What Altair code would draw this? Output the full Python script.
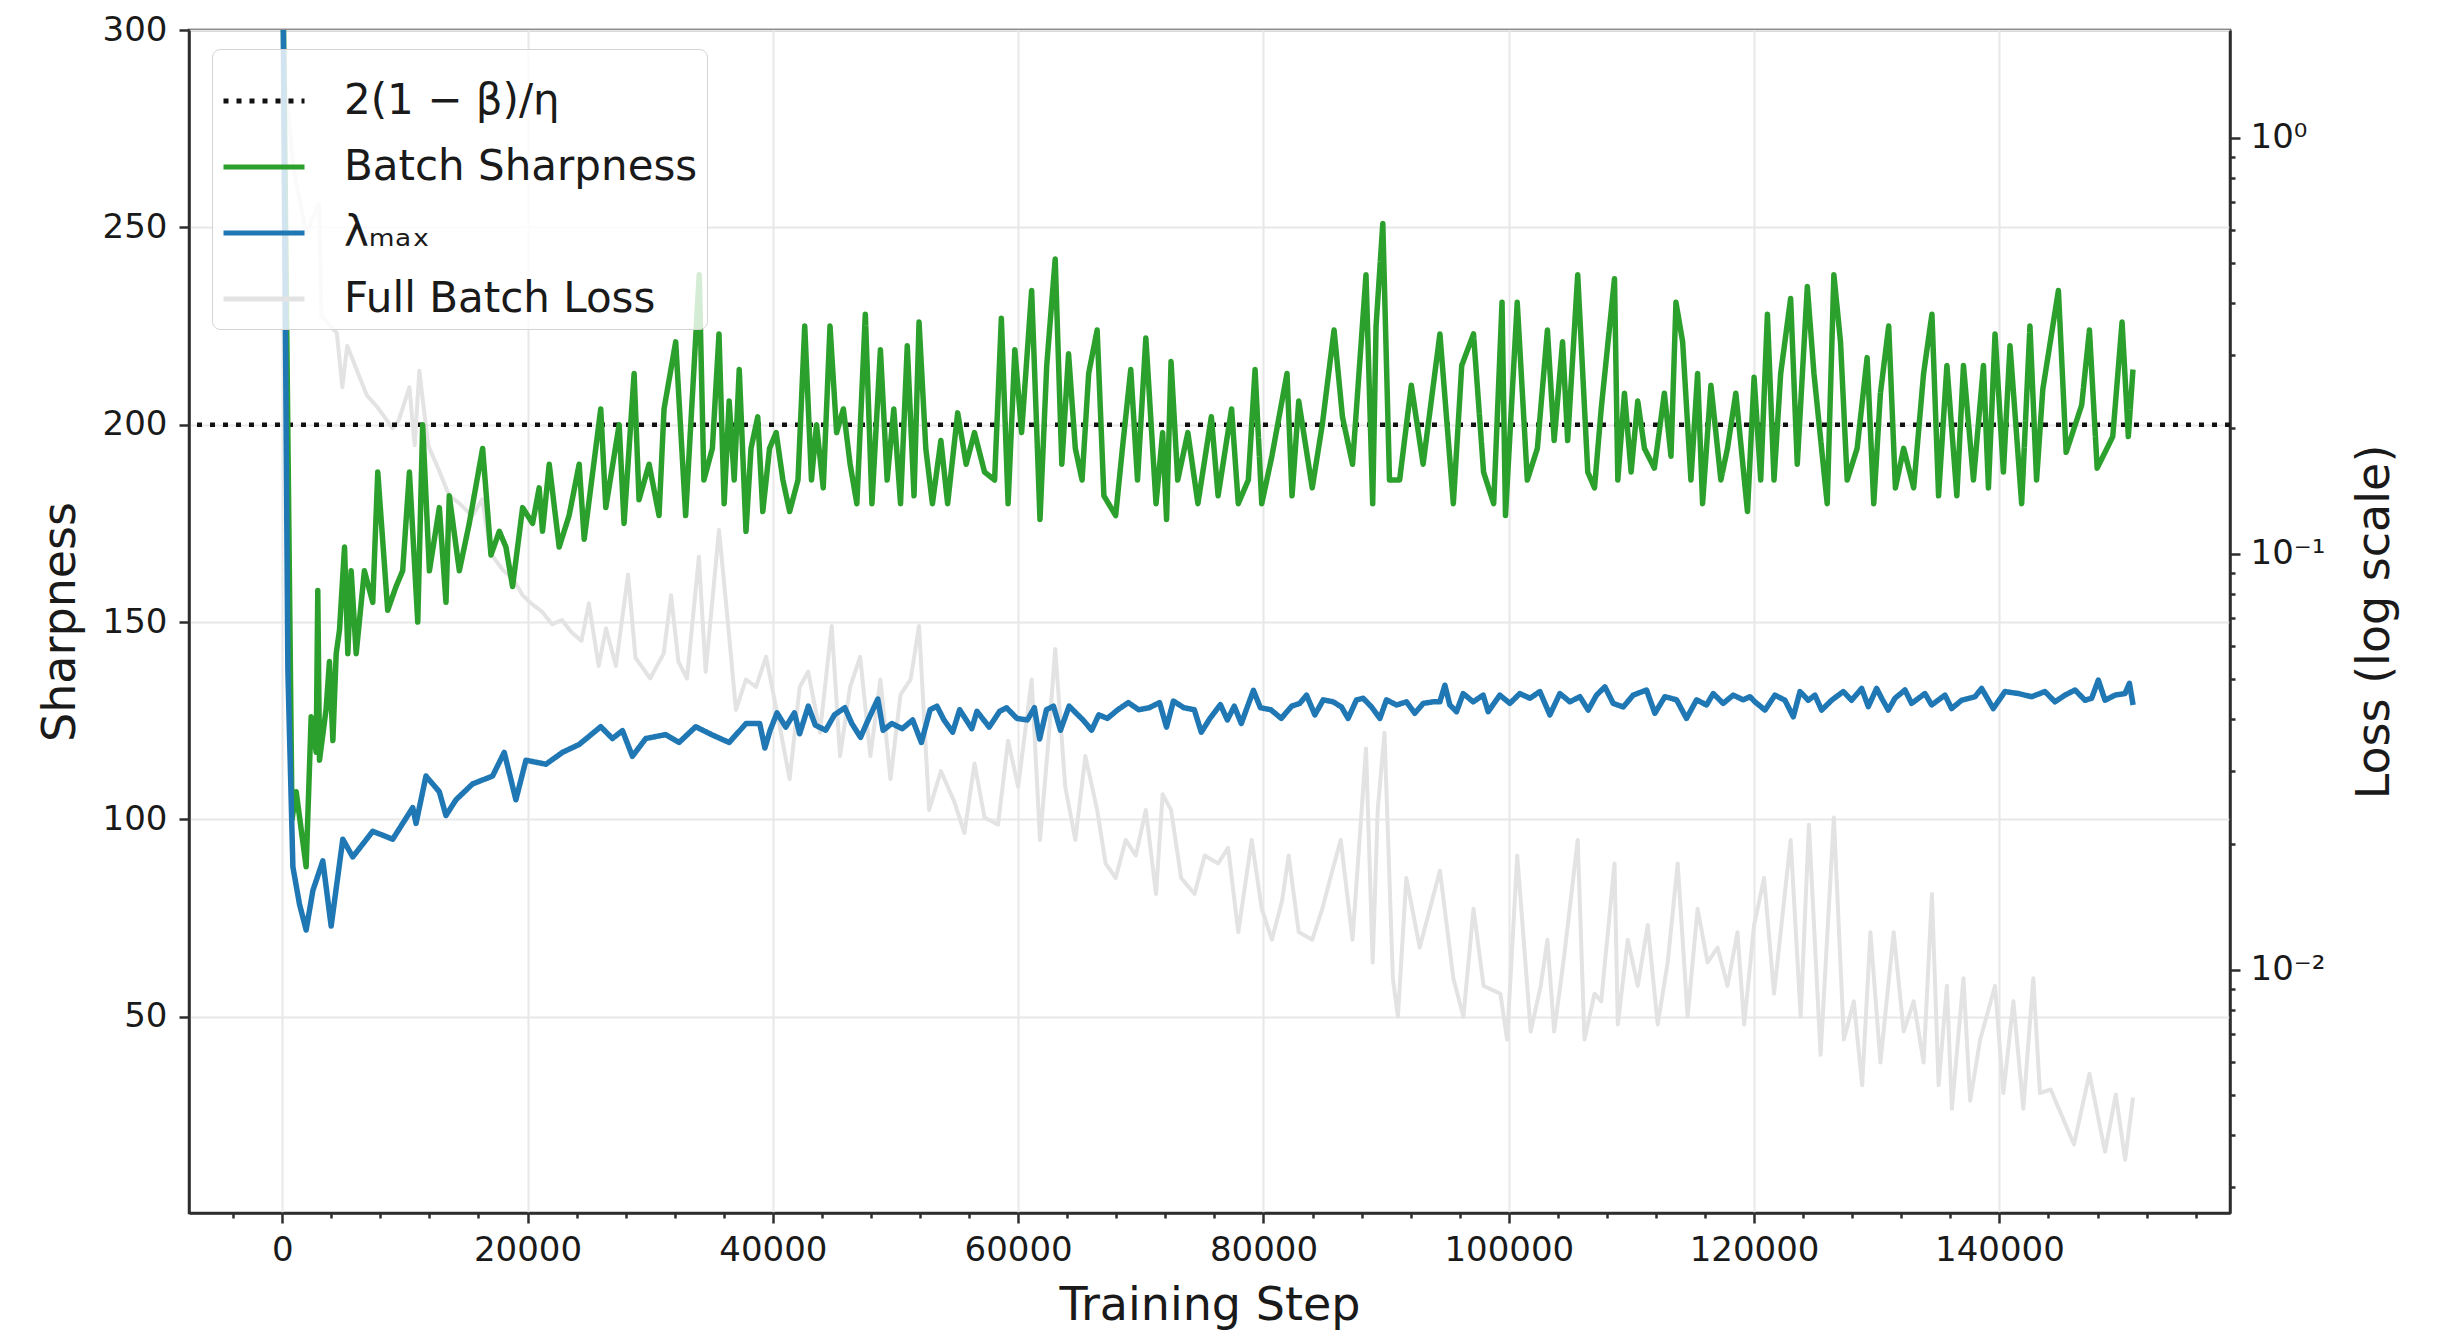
import altair as alt
import pandas as pd

# ---------------- data ----------------
THR_LABEL = "2(1 − β)/η"
SHARP_LABEL = "Batch Sharpness"
LMAX_LABEL = "λₘₐₓ"
LOSS_LABEL = "Full Batch Loss"

THRESHOLD = [200]

SHARP_STEPS = [
    0, 800, 1140, 1950, 2360, 2770, 2900, 3040, 3580, 3850, 4130, 4400, 4670, 5080, 5350, 5620,
    6030, 6700, 7380, 7790, 8600, 9280, 9820, 10370, 11050, 11450, 12000, 12810, 13350, 13620,
    14440, 15250, 16340, 17020, 17700, 18240, 18780, 19600, 20410, 20950, 21220, 21770, 22580,
    23390, 24210, 24620, 25970, 26380, 27470, 27870, 28690, 29090, 29910, 30720, 31130, 32080,
    32890, 34000, 34380, 35070, 35610, 36030, 36440, 36850, 37260, 37810, 38220, 38770, 39180,
    39730, 40270, 40820, 41370, 42050, 42600, 43150, 43560, 44110, 44660, 45200, 45750, 46300,
    46850, 47540, 48080, 48770, 49320, 49860, 50410, 50960, 51510, 51920, 52470, 53010, 53700,
    54250, 55070, 55760, 56440, 57260, 58080, 58630, 59180, 59730, 60280, 61100, 61780, 62330,
    63020, 63560, 64110, 64660, 65210, 65750, 66440, 66990, 67950, 68500, 69180, 69730, 70410,
    71240, 71780, 72100, 72465, 73010, 73835, 74655, 75750, 76300, 77400, 77945, 78765, 79315,
    79860, 80685, 81920, 82330, 82875, 83975, 84795, 85755, 86440, 87260, 88360, 88905, 89180,
    89730, 90275, 91100, 92055, 93015, 94385, 95480, 96165, 97125, 97945, 98770, 99450, 99730,
    100690, 101510, 102330, 103150, 103700, 104385, 104800, 105620, 106440, 106990, 107535,
    108620, 108890, 109430, 109975, 110515, 111060, 111870, 112685, 113225, 113630, 114175,
    114850, 115395, 115800, 116480, 117290, 117830, 118510, 119460, 120000, 120540, 121085,
    121625, 122170, 122980, 123520, 124340, 124880, 125960, 126505, 127045, 127590, 128400,
    129215, 129755, 130300, 130975, 131520, 132195, 133010, 133820, 134500, 135040, 135720,
    136530, 137070, 137885, 138700, 139105, 139645, 140325, 140865, 141815, 142490, 143030,
    143540, 144810, 145440, 146710, 147340, 147970, 148610, 149240, 150000, 150510, 150890,
]
BATCH_SHARPNESS = [
    330, 100, 107, 88, 126, 117, 158, 115, 128, 140, 120, 142, 148, 169, 142, 163,
    142, 163, 155, 188, 153, 159, 163, 188, 150, 200, 163, 179, 155, 182,
    163, 175, 194, 167, 173, 169, 159, 179, 175, 184, 173, 190, 169,
    177, 190, 171, 204, 179, 200, 175, 213, 181, 190, 177, 204, 221,
    177, 238, 186, 194, 223, 180, 206, 186, 214, 173, 194, 202, 178,
    194, 198, 186, 178, 186, 225, 186, 200, 184, 225, 198, 204, 190,
    180, 228, 180, 219, 186, 204, 180, 220, 182, 226, 194, 180, 196,
    180, 203, 190, 198, 188, 186, 227, 180, 219, 198, 234, 176, 215,
    242, 190, 218, 194, 186, 213, 224, 182, 177, 194, 214, 186, 222,
    180, 198, 176, 216, 186, 198, 180, 202, 182, 204, 180, 186, 214,
    180, 192, 213, 182, 206, 184, 200, 224, 202, 190, 238, 180, 225,
    251, 186, 186, 210, 190, 223, 180, 215, 223, 188, 180, 231, 177,
    231, 186, 194, 224, 196, 221, 196, 238, 188, 184, 204,
    237, 186, 208, 188, 206, 194, 189, 208, 192, 231, 221,
    186, 213, 180, 210, 186, 194, 208, 178, 212, 186, 228,
    186, 213, 232, 190, 235, 213, 180, 238, 221, 186, 194,
    217, 180, 208, 225, 184, 194, 184, 213, 228, 182, 215,
    182, 215, 186, 215, 184, 223, 188, 220, 180, 225, 186,
    209, 234, 193, 205, 224, 189, 193, 197, 226, 197, 214,
]

LMAX_STEPS = [
    0, 460, 870, 1410, 1950, 2500, 3310, 3990, 4940, 5750, 7380, 9010, 10640, 10910, 11720,
    12810, 13350, 14170, 15520, 17150, 18100, 19050, 19870, 21500, 22850, 24210, 25970, 26920,
    27740, 28550, 29640, 31270, 32350, 33710, 35070, 36440, 37810,
    38930, 39350, 39780, 40340, 41050, 41760, 42185, 42890, 43460, 44310, 45020, 45870, 46440,
    47150, 47710, 48560, 48990, 49700, 50550, 51400, 52110, 52820, 53380, 53950, 54660, 55230,
    56220, 56640, 57640, 58490, 59050, 59900, 60755, 61320, 61750, 62310, 62880, 63450, 64155,
    65290, 65990, 66570, 67275, 68125, 68980, 69830, 70680, 71530, 72095, 72660, 73510, 74360,
    74930, 75640, 76490, 77055, 77620, 78190, 79180, 79750, 80600, 81450, 82300,
    82960, 83510, 84190, 84870, 85680, 86360, 86900, 87585, 88130, 88810, 89490, 90030, 90850,
    91660, 92340, 93020, 93835, 94380, 94790, 95195, 95740, 96280, 97100, 97910, 98320, 99270,
    100090, 100900, 101720, 102535, 103350, 104165, 104980, 105795, 106475, 107155, 107835,
    108515, 109330, 110145, 111230, 111910, 112725, 113680, 114490, 115310, 116125, 116670,
    117480, 118300, 119110, 119660,
    120070, 120885, 121700, 122515, 123195, 123740, 124420, 124960, 125505, 126320, 127270,
    127950, 128770, 129310, 129990, 130400, 130940, 131485, 132300, 132845, 133930, 134475,
    135560, 136105, 136920, 138010, 138550, 139500, 140455, 141540, 142630, 143715, 144530,
    145350, 146160, 146980, 147520, 148065, 148610, 149425, 150240, 150600, 150900,
]
LAMBDA_MAX = [
    340, 138, 88, 78.5, 72, 82, 89.5, 73, 95, 90.5, 97, 95, 103, 99, 111,
    107, 101, 105, 109, 111, 117, 105, 115, 114, 117, 119, 123.5, 120.5,
    122.5, 116, 120.5, 121.5, 119.5, 123.5, 121.4, 119.5, 124.3,
    124.3, 118.1, 122.6, 127.0, 123.4, 127.0, 121.7, 128.7, 123.9, 122.6, 126.5, 128.3, 124.3,
    120.8, 124.8, 130.5, 122.6, 124.3, 123.0, 125.2, 119.5, 127.8, 128.7, 125.2, 122.1, 127.8,
    123.0, 127.4, 123.4, 127.4, 128.3, 125.6, 125.2, 128.3, 120.4, 127.8, 128.7, 122.6, 128.7,
    125.2, 122.6, 126.5, 125.6, 127.8, 129.6, 127.8, 128.3, 129.6, 123.4, 130.0, 128.3, 127.8,
    122.1, 125.6, 129.1, 125.2, 128.7, 124.3, 132.7, 128.3, 127.8, 125.6, 128.7,
    129.4, 131.5, 126.5, 130.3, 129.8, 128.5, 125.6, 130.3, 130.7, 128.5, 125.6, 130.3, 129.0,
    129.8, 126.9, 129.4, 129.8, 129.8, 134.0, 129.0, 127.3, 131.9, 129.8, 131.5, 127.3, 131.5,
    129.4, 131.9, 130.7, 132.4, 126.5, 131.9, 129.8, 131.1, 127.7, 131.5, 133.6,
    129.4, 128.5, 131.5, 132.8, 126.9, 131.1, 130.3, 125.6, 130.3, 129.0, 131.9,
    129.4, 131.5, 130.3, 131.1,
    129.8, 127.7, 131.5, 130.2, 126.0, 132.4, 130.2, 131.5, 127.7, 130.2, 132.4,
    130.2, 133.2, 128.6, 133.2, 130.7, 127.7, 130.7, 132.8, 129.4, 131.9, 129.0,
    131.5, 128.1, 130.2, 131.1, 133.2, 128.1, 132.4, 131.9, 131.1, 132.4, 129.8,
    131.5, 132.8, 130.2, 130.7, 135.3, 130.2, 131.5, 131.9, 134.5, 129.0,
]

LOSS_STEPS = [
    0, 300, 900, 1950, 3000, 3200, 4450, 4900, 5300, 6100, 6900, 7800, 9000, 9500, 10370, 10800,
    11180, 11900, 12800, 13600, 14450, 15500, 16300, 17000, 18000, 18800, 19600, 20300, 21200,
    22000, 22800, 23600, 24400, 25000, 25800, 26400, 27200, 28200, 28800, 30000, 31100, 31700,
    32300, 33000, 33970, 34520, 35610, 36300, 36990, 37810, 38630, 39450, 40550, 41370, 42190,
    42880, 43840, 44800, 45480, 46300, 47120, 47950, 48770, 49590, 50410, 51230, 51920, 52740,
    53700, 54800, 55620, 56440, 57260, 58360, 59180, 60000, 61100, 61780, 62470, 63020, 63840,
    64660, 65480, 66440, 67130, 67950, 68770, 69590, 70410, 71240, 71780, 72465, 73290, 74380,
    75205, 76300, 77120, 77945, 79040, 79860, 80685, 81510, 82055, 82875, 83975, 84795, 85615,
    86300, 87260, 88360, 88905, 89315, 89865, 90550, 90960, 91645, 92740, 94385, 95480, 96300,
    97125, 97945, 99315, 99865, 100690, 101785, 102605, 103150, 103700, 104520, 105620, 106170,
    106990, 107535, 108620, 108890, 109700, 110515, 111330, 112140, 112955, 113770, 114580,
    115395, 116205, 117020, 117830, 118645, 119190, 120000, 120815, 121625, 122980, 123795,
    124470, 125420, 126505, 127320, 128130, 128810, 129485, 130300, 131380, 132195, 133010,
    133820, 134500, 135040, 135720, 136125, 137070, 137615, 138430, 139645, 140325, 141140,
    141950, 142765, 143305, 144180, 146080, 147340, 148610, 149490, 150250, 150890,
]
FULL_BATCH_LOSS = [
    1.38, 1.32, 0.851, 0.589, 0.692, 0.372, 0.339, 0.251, 0.316, 0.275, 0.240, 0.224, 0.200,
    0.209, 0.251, 0.182, 0.275, 0.182, 0.158, 0.138, 0.132, 0.123, 0.135, 0.100, 0.0912,
    0.0871, 0.0794, 0.0759, 0.0724, 0.0676, 0.0692, 0.0646, 0.0617, 0.0759, 0.0537, 0.0661,
    0.0537, 0.0891, 0.0562, 0.0501, 0.0575, 0.0794, 0.0550, 0.0501, 0.0982, 0.0520, 0.114,
    0.0700, 0.0421, 0.0498, 0.0478, 0.0565, 0.0386, 0.0287, 0.0478, 0.0520, 0.0371, 0.0670,
    0.0326, 0.0478, 0.0565, 0.0326, 0.0498, 0.0287, 0.0458, 0.0498, 0.0670, 0.0242, 0.0300,
    0.0253, 0.0213, 0.0313, 0.0232, 0.0223, 0.0355, 0.0275, 0.0498, 0.0205, 0.0355, 0.0590,
    0.0275, 0.0205, 0.0326, 0.0242, 0.0180, 0.0166, 0.0205, 0.0188, 0.0242, 0.0152, 0.0264,
    0.0242, 0.0166, 0.0152, 0.0188, 0.0180, 0.0196, 0.0123, 0.0205, 0.0140, 0.0118, 0.0146,
    0.0188, 0.0123, 0.0118, 0.0140, 0.0173, 0.0205, 0.0118, 0.0340, 0.0104, 0.0242, 0.0371,
    0.00953, 0.00771, 0.0166, 0.0113, 0.0173, 0.00953, 0.00771, 0.0140, 0.00914, 0.00875,
    0.00679, 0.0188, 0.00710, 0.00914, 0.0118, 0.00710, 0.0108, 0.0205, 0.00679, 0.00875,
    0.00839, 0.0180, 0.00738, 0.0118, 0.00914, 0.0128, 0.00738, 0.0104, 0.0180, 0.00771,
    0.0140, 0.0104, 0.0113, 0.00914, 0.0123, 0.00738, 0.0128, 0.0166, 0.00875, 0.0205,
    0.00771, 0.0223, 0.00624, 0.0232, 0.00679, 0.00839, 0.00527, 0.0123, 0.00598, 0.0123,
    0.00710, 0.00839, 0.00598, 0.0152, 0.00527, 0.00914, 0.00463, 0.00953, 0.00484, 0.00679,
    0.00914, 0.00505, 0.00839, 0.00463, 0.00953, 0.00505, 0.00515, 0.00380, 0.00562, 0.00365,
    0.00501, 0.00349, 0.00493,
]

X_MAJOR_TICKS = [0, 20000, 40000, 60000, 80000, 100000, 120000, 140000]
X_MINOR_TICKS = [-4000, 4000, 8000, 12000, 16000, 24000, 28000, 32000, 36000, 44000, 48000,
                 52000, 56000, 64000, 68000, 72000, 76000, 84000, 88000, 92000, 96000, 104000,
                 108000, 112000, 116000, 124000, 128000, 132000, 136000, 144000, 148000,
                 152000, 156000]
LEFT_TICKS = [50, 100, 150, 200, 250, 300]
LOSS_MAJOR_TICKS = [0.01, 0.1, 1]
LOSS_MAJOR_LABELS = ["10⁻²", "10⁻¹", "10⁰"]
LOSS_MINOR_TICKS = [0.003, 0.004, 0.005, 0.006, 0.007, 0.008, 0.009,
                    0.02, 0.03, 0.04, 0.05, 0.06, 0.07, 0.08, 0.09,
                    0.2, 0.3, 0.4, 0.5, 0.6, 0.7, 0.8, 0.9]

SERIES = [THR_LABEL, SHARP_LABEL, LMAX_LABEL, LOSS_LABEL]
COLORS = ["#111111", "#2ca02c", "#1f77b4", "#e3e3e3"]
DASHES = [[5, 8], [1, 0], [1, 0], [1, 0]]

# ---------------- tables ----------------
left_df = pd.concat([
    pd.DataFrame({"step": SHARP_STEPS, "value": BATCH_SHARPNESS, "series": SHARP_LABEL}),
    pd.DataFrame({"step": LMAX_STEPS, "value": LAMBDA_MAX, "series": LMAX_LABEL}),
], ignore_index=True)
loss_df = pd.DataFrame({"step": LOSS_STEPS, "loss": FULL_BATCH_LOSS, "series": LOSS_LABEL})
thr_df = pd.DataFrame({"value": THRESHOLD, "series": THR_LABEL})

# ---------------- styling ----------------
FONT = "DejaVu Sans"
INK = "#1a1a1a"
SPINE = "#2e2e2e"
W, H = 2041, 1183
PAD = {"left": 189, "top": 30, "right": 2443 - 189 - W, "bottom": 1336 - 30 - H}

x_major_test = "indexof(" + str(X_MAJOR_TICKS) + ", datum.value) >= 0"
loss_major_test = " || ".join("datum.value == %s" % v for v in LOSS_MAJOR_TICKS)
loss_label_expr = "".join(
    "datum.value == %s ? '%s' : " % (v, lab) for v, lab in zip(LOSS_MAJOR_TICKS, LOSS_MAJOR_LABELS)
) + "''"

x_enc = alt.X(
    "step:Q",
    scale=alt.Scale(domain=[-7600, 158800], nice=False, zero=False),
    axis=alt.Axis(
        values=sorted(X_MAJOR_TICKS + X_MINOR_TICKS),
        format="d",
        labelExpr="(" + x_major_test + ") ? datum.label : ''",
        labelOverlap=False,
        labelFontSize=34,
        labelPadding=10,
        tickSize={"condition": {"test": x_major_test, "value": 10}, "value": 5},
        grid=True,
        gridOpacity={"condition": {"test": x_major_test, "value": 1}, "value": 0},
        title="Training Step",
        titleFontSize=46,
        titlePadding=16,
    ),
)

left_scale = alt.Scale(domain=[0.3, 300], nice=False, zero=False)
left_axis = alt.Axis(
    orient="left",
    values=LEFT_TICKS,
    grid=True,
    labelFontSize=34,
    labelPadding=12,
    tickSize=10,
    title="Sharpness",
    titleFontSize=46,
    titlePadding=18,
)

right_axis = alt.Axis(
    orient="right",
    values=sorted(LOSS_MAJOR_TICKS + LOSS_MINOR_TICKS),
    labelExpr=loss_label_expr,
    labelOverlap=False,
    labelFontSize=34,
    labelPadding=10,
    tickSize={"condition": {"test": loss_major_test, "value": 10}, "value": 5},
    grid=False,
    title="Loss (log scale)",
    titleFontSize=46,
    titleAngle=270,
    titlePadding=74,
)

legend = alt.Legend(
    title=None,
    orient="none",
    legendX=23,
    legendY=19,
    direction="vertical",
    symbolType="stroke",
    symbolSize=6561,
    symbolStrokeWidth=5,
    labelFont=FONT,
    labelFontSize=42,
    labelColor=INK,
    labelLimit=800,
    labelOffset=37,
    rowPadding=2,
    padding=9,
    fillColor="rgba(255,255,255,0.8)",
    strokeColor="#d4d4d4",
    cornerRadius=8,
)

color_enc = alt.Color("series:N", scale=alt.Scale(domain=SERIES, range=COLORS), legend=legend)
dash_enc = alt.StrokeDash("series:N", scale=alt.Scale(domain=SERIES, range=DASHES), legend=legend)

loss_layer = alt.Chart(loss_df).mark_line(strokeWidth=4, clip=True, strokeJoin="round").encode(
    x=x_enc,
    y=alt.Y("loss:Q", scale=alt.Scale(type="log", domain=[0.0026, 1.813], nice=False), axis=right_axis),
    color=color_enc,
    strokeDash=dash_enc,
)

thr_layer = alt.Chart(thr_df).mark_rule(strokeWidth=4.5).encode(
    y=alt.Y("value:Q", scale=left_scale, axis=left_axis),
    color=color_enc,
    strokeDash=dash_enc,
)

lines_layer = alt.Chart(left_df).mark_line(strokeWidth=5.5, clip=True, strokeJoin="round").encode(
    x=x_enc,
    y=alt.Y("value:Q", scale=left_scale, axis=left_axis),
    color=color_enc,
    strokeDash=dash_enc,
)

left = alt.layer(thr_layer, lines_layer)

chart = (
    alt.layer(loss_layer, left)
    .resolve_scale(y="independent")
    .properties(
        width=W,
        height=H,
        padding=PAD,
        autosize=alt.AutoSizeParams(type="none"),
        background="white",
    )
    .configure(font=FONT)
    .configure_view(stroke=SPINE, strokeWidth=2.5)
    .configure_axis(
        domainColor=SPINE,
        domainWidth=2.5,
        tickColor=SPINE,
        tickWidth=2.5,
        labelColor=INK,
        titleColor=INK,
        labelFont=FONT,
        titleFont=FONT,
        titleFontWeight="normal",
        gridColor="#e8e8e8",
        gridWidth=2,
    )
)

chart.save("out.html", embed_options={"renderer": "svg", "actions": False})
